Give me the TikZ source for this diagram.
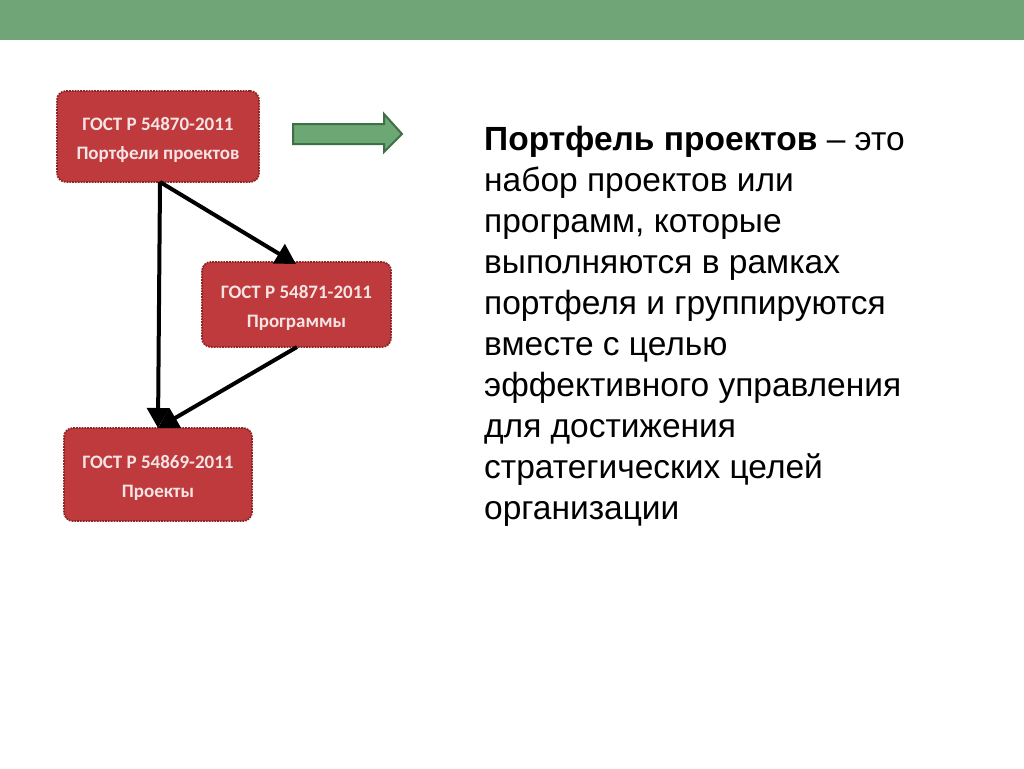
\documentclass[tikz,border=0pt]{standalone}
\usepackage{fontspec}
\setmainfont{Liberation Sans}
\newfontfamily\boxfont{Carlito}
\usetikzlibrary{arrows.meta}
\definecolor{barGreen}{HTML}{70A578}
\definecolor{boxRed}{HTML}{BE3A3C}
\definecolor{boxEdge}{HTML}{8E2426}
\definecolor{boxText}{HTML}{F6E4E4}
\definecolor{arrGreen}{HTML}{6BA873}
\definecolor{arrEdge}{HTML}{3F6F47}
\newcommand{\uplift}{\rule{0pt}{20pt}}
\tikzset{
  gost/.style={draw=boxEdge, line width=1.8pt, densely dotted, fill=boxRed, rounded corners=9pt,
    text=boxText, font=\boxfont\bfseries\fontsize{19}{29}\selectfont, align=center, inner sep=0pt},
  link/.style={line width=4pt, black, -{Triangle[length=20pt,width=22pt]}},
}
\begin{document}
\begin{tikzpicture}[x=1pt,y=-1pt]
\useasboundingbox (0,0) rectangle (1024,768);
\fill[white] (0,0) rectangle (1024,768);
\fill[barGreen] (0,0) rectangle (1024,40);
% boxes
\node[gost, minimum width=202pt, minimum height=91pt] (b1) at (158,136.5) {\uplift ГОСТ Р 54870-2011\\Портфели проектов};
\node[gost, minimum width=189pt, minimum height=85pt] (b2) at (296.5,304.5) {\uplift ГОСТ Р 54871-2011\\Программы};
\node[gost, minimum width=188pt, minimum height=93pt] (b3) at (158,474.5) {\uplift ГОСТ Р 54869-2011\\Проекты};
% connectors
\coordinate (s1) at (160,182);
\coordinate (t2) at (296,264);
\coordinate (s2) at (297,347);
\coordinate (t3) at (158,428);
\draw[link] (s1) -- (t3);
\draw[link] (s1) -- (t2);
\draw[link] (s2) -- (t3);
% green block arrow
\draw[arrEdge, line width=2pt, fill=arrGreen, line join=miter]
  (293,124) -- (384,124) -- (384,114) -- (402,134) -- (384,152) -- (384,144) -- (293,144) -- cycle;
% text
\node[anchor=north west, inner sep=0pt, align=left, font=\fontsize{33.5}{41}\selectfont] (txt) at (484,126)
{\textbf{Портфель проектов} – это\\
набор проектов или\\
программ, которые\\
выполняются в рамках\\
портфеля и группируются\\
вместе с целью\\
эффективного управления\\
для достижения\\
стратегических целей\\
организации};
\end{tikzpicture}
\end{document}
